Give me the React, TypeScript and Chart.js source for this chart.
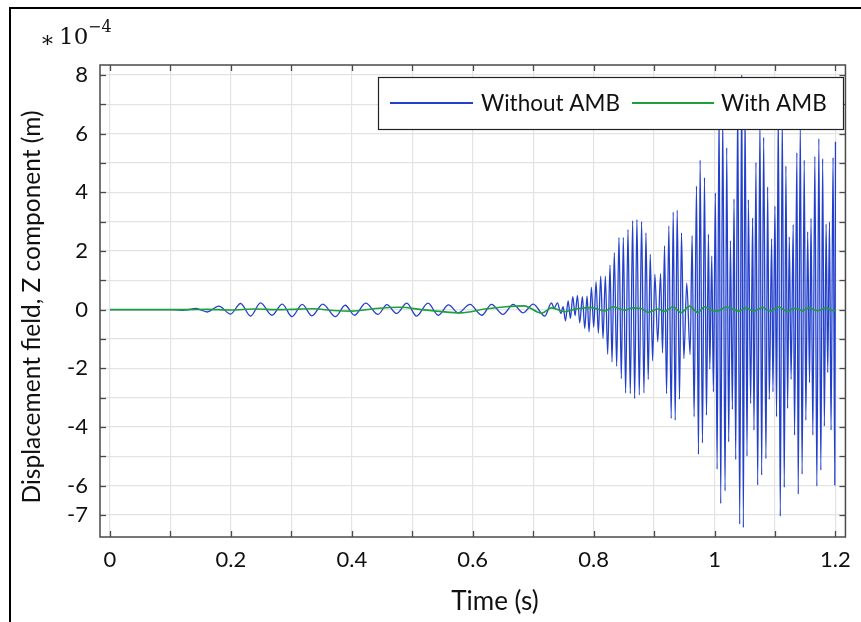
import React, { useEffect, useRef } from "react";
import { Chart, registerables } from "chart.js";

Chart.register(...registerables);

// ---------- data (time in s, displacement in units of 1e-4 m) ----------
const seriesNames = ["Without AMB", "With AMB"];

const withoutAmbEarly: [number, number][] = [
  [0, 0], [0.05, 0], [0.1, 0], [0.12, -0.02], [0.13, 0.005], [0.142, 0.04], [0.161, -0.08],
  [0.18, 0.12], [0.1995, -0.15], [0.216, 0.21], [0.2325, -0.22], [0.249, 0.23], [0.268, -0.19],
  [0.285, 0.19], [0.301, -0.24], [0.318, 0.18], [0.334, -0.21], [0.352, 0.19], [0.373, -0.24],
  [0.389, 0.15], [0.4046, -0.19], [0.423, 0.22], [0.4435, -0.16], [0.458, 0.17], [0.474, -0.13],
  [0.491, 0.22], [0.507, -0.22], [0.526, 0.22], [0.543, -0.19], [0.56, 0.16], [0.576, -0.11],
  [0.5955, 0.18], [0.615, -0.19], [0.631, 0.18], [0.65, -0.16], [0.667, 0.18], [0.6835, -0.11],
  [0.7, 0.19],
];

const withoutAmbGrowth: [number, number][] = [
  [0.7193, -0.22], [0.7302, 0.23], [0.7346, 0.05], [0.7402, 0.23], [0.7457, -0.13], [0.7495, 0.1],
  [0.7534, -0.38], [0.7578, 0.3], [0.7616, -0.3], [0.7655, 0.44], [0.7693, -0.2], [0.7732, 0.49],
  [0.777, -0.45], [0.7814, 0.44], [0.7853, -0.64], [0.7891, 0.46], [0.7924, -0.76], [0.7963, 0.76],
  [0.8001, -0.6], [0.804, 0.95], [0.8078, -0.81], [0.8117, 1.14], [0.8155, -0.98], [0.8194, 1.14],
  [0.8232, -1.52], [0.8271, 1.52], [0.8304, -1.78], [0.8342, 1.94], [0.8381, -1.93], [0.8419, 2.46],
  [0.8458, -2.35], [0.8491, 2.46], [0.8529, -2.84], [0.8568, 2.73], [0.8606, -2.86], [0.8645, 3.03],
  [0.8678, -3.03], [0.8716, 3.07], [0.8755, -2.91], [0.8793, 3.0], [0.8832, -2.84], [0.8865, 2.62],
  [0.8903, -2.38], [0.8936, 1.89], [0.8975, -1.74], [0.9013, 1.21], [0.906, -1.1],
];

const withoutAmbLate: [number, number][] = [
  [0.9107, 1.23], [0.914, -1.47], [0.9173, 2.18], [0.9206, -2.86], [0.9244, 2.85], [0.9283, -3.71],
  [0.9316, 3.33], [0.9349, -3.77], [0.9382, 3.39], [0.942, -3.05], [0.9453, 2.62], [0.9492, -1.67],
  [0.954, 0.9], [0.9596, -1.53], [0.9629, 2.52], [0.9662, -3.65], [0.9701, 4.21], [0.9734, -4.93],
  [0.9761, 5.1], [0.98, -4.54], [0.9833, 4.5], [0.9866, -3.6], [0.9899, 2.57], [0.9921, -2.03],
  [0.9954, 1.83], [0.9981, -2.8], [1.0014, 3.98], [1.0042, -5.44], [1.0075, 6.9], [1.0102, -6.61],
  [1.0135, 6.6], [1.0174, -6.18], [1.0201, 5.52], [1.0234, -4.51], [1.0262, 2.35], [1.0295, -3.4],
  [1.0322, 3.78], [1.035, -5.11], [1.0383, 7.2], [1.0416, -7.31], [1.0449, 8.0], [1.0476, -7.43],
  [1.0504, 7.0], [1.0537, -4.99], [1.0559, 3.75], [1.0597, -3.2], [1.063, 3.13], [1.0652, -4.11],
  [1.0685, 5.02], [1.0713, -5.98], [1.0751, 6.5], [1.0779, -5.64], [1.0812, 5.87], [1.085, -5.08],
  [1.0878, 4.19], [1.0905, -3.06], [1.0944, 2.42], [1.0966, -2.8], [1.0999, 3.53], [1.1026, -3.65],
  [1.1054, 6.8], [1.1087, -7.04], [1.112, 6.6], [1.1153, -6.06], [1.118, 4.9], [1.1208, -3.37],
  [1.1236, 2.48], [1.1266, -2.38], [1.1301, 2.9], [1.1323, -4.28], [1.1362, 5.35], [1.1384, -6.29],
  [1.1418, 6.4], [1.1448, -5.61], [1.1483, 5.1], [1.151, -3.77], [1.154, 2.65], [1.1571, -2.49],
  [1.1596, 3.11], [1.1626, -4.28], [1.1659, 5.23], [1.1692, -6.02], [1.1725, 5.83], [1.1758, -5.47],
  [1.1788, 5.15], [1.1816, -3.97], [1.1845, 2.92], [1.1872, -2.15], [1.1901, 2.99], [1.1927, -4.11],
  [1.196, 5.19], [1.1989, -5.98], [1.2, 5.72],
];

const withAmbEarly: [number, number][] = [
  [0, 0], [0.13, 0], [0.16, 0.01], [0.2, -0.01], [0.24, 0.02], [0.28, 0], [0.3, 0.01],
  [0.335, 0.03], [0.37, -0.03], [0.4, -0.05], [0.44, 0.04], [0.48, 0.08], [0.515, 0],
  [0.545, -0.06], [0.58, -0.11], [0.62, 0.02], [0.655, 0.1], [0.685, 0.13], [0.714, -0.12],
  [0.7302, 0.06],
];

const withAmbLate: [number, number][] = [
  [0.7523, -0.07], [0.77, 0.02], [0.7963, 0.07], [0.8183, -0.04], [0.832, 0.1], [0.8513, -0.02],
  [0.8645, 0.06], [0.8788, 0.04], [0.8898, -0.09], [0.9063, 0.02], [0.9173, -0.06], [0.931, 0.1],
  [0.9448, -0.1], [0.9586, 0.12], [0.9723, -0.1], [0.9833, 0.1], [0.9943, -0.02], [1.005, -0.05],
  [1.019, 0.09], [1.03, 0.02], [1.041, -0.05], [1.052, 0.07], [1.059, 0], [1.0658, -0.05],
  [1.073, 0.02], [1.0795, 0.08], [1.086, 0], [1.0933, -0.05], [1.1, 0.03], [1.107, 0.09],
  [1.114, 0], [1.1208, -0.07], [1.126, 0], [1.1318, 0.05], [1.139, 0.01], [1.1455, -0.05],
  [1.151, 0.02], [1.1565, 0.07], [1.165, -0.01], [1.173, -0.03], [1.179, 0.02], [1.184, 0.07],
  [1.191, 0], [1.1978, -0.03], [1.2, -0.01],
];

const xLabelValues = [0, 0.2, 0.4, 0.6, 0.8, 1, 1.2];
const yLabelValues = [8, 6, 4, 2, 0, -2, -4, -6, -7];
const xTitle = "Time (s)";
const yTitle = "Displacement field, Z component (m)";

// ---------- styles ----------
const BLUE = "#2340cc";
const GREEN = "#1f9e3c";
const SANS = 'Lato, "Open Sans", sans-serif';
const SERIF = '"DejaVu Serif", "Liberation Serif", serif';

const overlay = {
  id: "overlay",
  afterDraw(chart: any) {
    const { ctx, chartArea: a, scales } = chart;
    ctx.save();
    const line = (x1: number, y1: number, x2: number, y2: number) => {
      ctx.beginPath();
      ctx.moveTo(x1, y1);
      ctx.lineTo(x2, y2);
      ctx.stroke();
    };
    // outer figure frame (top + left)
    ctx.strokeStyle = "#000";
    ctx.lineWidth = 2;
    ctx.beginPath();
    ctx.moveTo(10, 622);
    ctx.lineTo(10, 8);
    ctx.lineTo(861, 8);
    ctx.stroke();

    // plot frame
    ctx.strokeStyle = "#4a4a4a";
    ctx.lineWidth = 1.5;
    ctx.strokeRect(a.left, a.top, a.right - a.left, a.bottom - a.top);

    // inward ticks
    ctx.lineWidth = 1.3;
    for (const t of scales.x.ticks) {
      const px = Math.round(scales.x.getPixelForValue(t.value)) + 0.5;
      line(px, a.bottom, px, a.bottom - 6);
      line(px, a.top, px, a.top + 6);
    }
    for (const t of scales.y.ticks) {
      const py = Math.round(scales.y.getPixelForValue(t.value)) + 0.5;
      line(a.left, py, a.left + 6, py);
      line(a.right, py, a.right - 6, py);
    }

    // legend box
    const lx = 378, ly = 77, lw = 465, lh = 52;
    ctx.fillStyle = "#fff";
    ctx.fillRect(lx, ly, lw, lh);
    ctx.strokeStyle = "#222";
    ctx.lineWidth = 1.2;
    ctx.strokeRect(lx + 0.5, ly + 0.5, lw, lh);
    const my = ly + lh / 2;
    ctx.lineWidth = 2;
    ctx.strokeStyle = BLUE;
    line(390, my, 473, my);
    ctx.strokeStyle = GREEN;
    line(632, my, 714, my);
    ctx.fillStyle = "#111";
    ctx.font = `22.5px ${SANS}`;
    ctx.textBaseline = "middle";
    ctx.textAlign = "left";
    ctx.fillText(seriesNames[0], 481, my + 1);
    ctx.fillText(seriesNames[1], 721, my + 1);

    // axis titles
    ctx.font = `26px ${SANS}`;
    ctx.textAlign = "center";
    ctx.textBaseline = "middle";
    ctx.fillText(xTitle, 495, 602);
    ctx.font = `24.5px ${SANS}`;
    ctx.save();
    ctx.translate(32, 307);
    ctx.rotate(-Math.PI / 2);
    ctx.fillText(yTitle, 0, 0);
    ctx.restore();

    // exponent label
    ctx.textAlign = "left";
    ctx.textBaseline = "alphabetic";
    ctx.font = `22px ${SERIF}`;
    ctx.fillText("\u2217", 40, 47);
    ctx.font = `23px ${SERIF}`;
    ctx.fillText("10", 59, 44);
    ctx.font = `16px ${SERIF}`;
    ctx.fillText("\u22124", 88, 32);
    ctx.restore();
  },
};

export default function App() {
  const ref = useRef<HTMLCanvasElement>(null);
  useEffect(() => {
    const canvas = ref.current;
    if (!canvas) return;
    const toXY = (pts: [number, number][]) => pts.map(([x, y]) => ({ x, y }));
    const chart = new Chart(canvas, {
      type: "line",
      data: {
        datasets: [
          {
            label: seriesNames[1],
            data: toXY([...withAmbEarly, ...withAmbLate]),
            borderColor: GREEN,
            borderWidth: 1.6,
            pointRadius: 0,
            cubicInterpolationMode: "monotone",
            order: 0,
          },
          {
            label: seriesNames[0],
            data: toXY([...withoutAmbEarly, ...withoutAmbGrowth, ...withoutAmbLate]),
            borderColor: BLUE,
            borderWidth: 1.3,
            pointRadius: 0,
            cubicInterpolationMode: "monotone",
            order: 1,
          },
        ],
      },
      options: {
        responsive: false,
        animation: false,
        events: [],
        layout: { padding: { left: 10, right: 13, top: 65, bottom: 0 } },
        plugins: {
          legend: { display: false },
          tooltip: { enabled: false },
          title: { display: false },
        },
        scales: {
          x: {
            type: "linear",
            min: -0.0165,
            max: 1.2165,
            afterFit: (s: any) => {
              s.height = 85;
            },
            border: { display: false },
            grid: { color: "#e3e3e3", lineWidth: 1.2, drawTicks: false },
            ticks: {
              stepSize: 0.1,
              includeBounds: false,
              autoSkip: false,
              maxRotation: 0,
              padding: 10,
              color: "#111",
              font: { family: SANS, size: 22 },
              callback: (v: any) => {
                const r = Math.round(Number(v) * 10);
                return xLabelValues.some((l) => Math.round(l * 10) === r) ? String(r / 10) : "";
              },
            },
          },
          y: {
            type: "linear",
            min: -7.75,
            max: 8.34,
            afterFit: (s: any) => {
              s.width = 90;
            },
            border: { display: false },
            grid: { color: "#e3e3e3", lineWidth: 1.2, drawTicks: false },
            ticks: {
              stepSize: 1,
              includeBounds: false,
              autoSkip: false,
              padding: 12,
              color: "#111",
              font: { family: SANS, size: 22 },
              callback: (v: any) => {
                const r = Math.round(Number(v));
                return yLabelValues.includes(r) ? String(r) : "";
              },
            },
          },
        },
      },
      plugins: [overlay],
    } as any);
    return () => chart.destroy();
  }, []);
  return (
    <div style={{ position: "absolute", left: 0, top: 0, width: 861, height: 622, background: "#fff" }}>
      <canvas ref={ref} width={861} height={622} style={{ display: "block" }} />
    </div>
  );
}
